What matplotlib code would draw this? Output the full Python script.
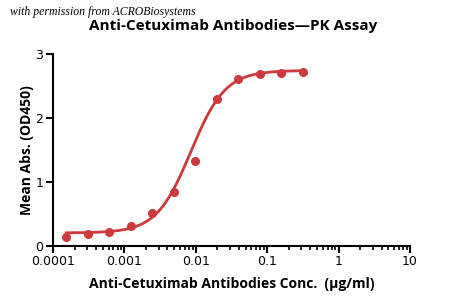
import matplotlib.pyplot as plt
from matplotlib.ticker import LogLocator, FixedLocator
import numpy as np

# Data
conc = [0.000153, 0.000305, 0.00061, 0.00122, 0.00244, 0.00488,
        0.00977, 0.0195, 0.0391, 0.0781, 0.156, 0.3125]
absorb = [0.13, 0.18, 0.21, 0.31, 0.51, 0.84, 1.32, 2.30, 2.61, 2.68, 2.70, 2.71]
x_ticks = [0.0001, 0.001, 0.01, 0.1, 1, 10]
x_tick_labels = ['0.0001', '0.001', '0.01', '0.1', '1', '10']
y_ticks = [0, 1, 2, 3]

# 4PL fit parameters (bottom, top, EC50, hill) estimated from the curve
fit_bottom, fit_top, fit_ec50, fit_hill = 0.20, 2.74, 0.0085, 1.8

red = '#CC3A3C'

fig = plt.figure(figsize=(4.5, 3.06), dpi=100)
ax = fig.add_axes([0.118, 0.197, 0.793, 0.627])

xs = np.logspace(np.log10(conc[0]), np.log10(conc[-1]), 300)
ys = fit_bottom + (fit_top - fit_bottom) / (1 + (fit_ec50 / xs) ** fit_hill)
ax.plot(xs, ys, color=red, lw=2)
ax.plot(conc, absorb, 'o', color=red, ms=5.5)

ax.set_xscale('log')
ax.set_xlim(0.0001, 10)
ax.set_ylim(0, 3)
ax.xaxis.set_major_locator(FixedLocator(x_ticks))
ax.set_xticklabels(x_tick_labels)
ax.xaxis.set_minor_locator(LogLocator(base=10, subs=np.arange(2, 10)))
ax.set_yticks(y_ticks)

for side in ['top', 'right']:
    ax.spines[side].set_visible(False)
for side in ['left', 'bottom']:
    ax.spines[side].set_linewidth(1.5)
ax.tick_params(which='major', direction='out', length=5, width=1.5, labelsize=9, pad=2)
ax.tick_params(which='minor', direction='out', length=3, width=1.2)

ax.set_xlabel('Anti-Cetuximab Antibodies Conc.  (\u03bcg/ml)', fontsize=10,
              fontweight='bold', family='Open Sans', labelpad=6)
ax.set_ylabel('Mean Abs. (OD450)', fontsize=10, fontweight='bold',
              family='Open Sans', labelpad=1)
fig.text(0.517, 0.915, 'Anti-Cetuximab Antibodies\u2014PK Assay', ha='center',
         va='center', fontsize=11, fontweight='bold', family='Open Sans')
fig.text(0.022, 0.962, 'with permission from ACROBiosystems', ha='left',
         va='center', fontsize=8.5, style='italic', family='Liberation Serif')

fig.savefig('out.png', dpi=100)
